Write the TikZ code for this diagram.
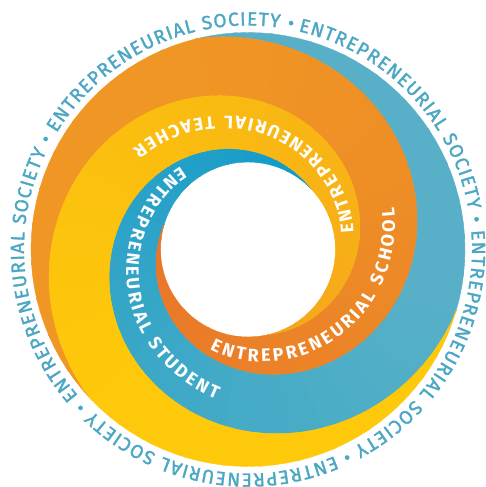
\documentclass[tikz,border=0pt]{standalone}
\usepackage{fontspec}
\setmainfont{Fira Sans}
\newfontfamily\ringfont{Fira Sans}[FakeBold=1.6]
\usetikzlibrary{decorations.text}

\definecolor{bluein}{HTML}{0E9AC8}
\definecolor{blueout}{HTML}{57B0C7}
\definecolor{orangein}{HTML}{E8742A}
\definecolor{orangeout}{HTML}{F09624}
\definecolor{yellowin}{HTML}{F5A51C}
\definecolor{yellowout}{HTML}{FDC90A}
\definecolor{societyblue}{HTML}{4BA7C3}

\begin{document}
\begin{tikzpicture}[x=1pt, y=1pt,
	declare function={
		ease(\t)=\t-0.6*\t*(1-\t)^2;
		bandr(\p)=87.5+129.5*ease(min(max(\p/300,0),1));
	}]
	\useasboundingbox (-248,-237.5) rectangle (237,249.5);
	\fill[white] (-248,-237.5) rectangle (237,249.5);

	% three spiral bands, filled piece by piece for the colour run
	\foreach \s/\cin/\cout in {43/bluein/blueout, 163/orangein/orangeout, 283/yellowin/yellowout}{
		\foreach \k in {0,...,41}{
			\pgfmathsetmacro{\pa}{10*\k}
			\pgfmathsetmacro{\pb}{10*\k+11}
			\pgfmathtruncatemacro{\pct}{min(100,(10*\k+5)/3)}
			\colorlet{piece}{\cout!\pct!\cin}
			\fill[piece, draw=piece, line width=0.4pt]
				plot[domain=\pa:\pb, samples=4] ({\s+\x}:{bandr(\x)})
				-- plot[domain=\pb:\pa, samples=4] ({\s+\x}:{bandr(\x-120)}) -- cycle;
		}
	}

	% labels along the middle of each band
	\path[decorate, decoration={text along path, text color=white, text align=fit to path,
		text={|\bfseries\fontsize{18}{18}\selectfont|ENTREPRENEURIAL STUDENT}}]
		plot[domain=86:215, samples=50] ({43+\x}:{(bandr(\x)+bandr(\x-120))/2+6.5});
	\path[decorate, decoration={text along path, text color=white, text align=fit to path,
		text={|\bfseries\fontsize{18}{18}\selectfont|ENTREPRENEURIAL SCHOOL}}]
		plot[domain=86:213, samples=50] ({163+\x}:{(bandr(\x)+bandr(\x-120))/2+6.5});
	\path[decorate, decoration={text along path, text color=white, text align=fit to path,
		text={|\bfseries\fontsize{18}{18}\selectfont|ENTREPRENEURIAL TEACHER}}]
		plot[domain=86:216, samples=50] ({283+\x}:{(bandr(\x)+bandr(\x-120))/2+6.5});

	% outer ring of text
	\path[decorate, decoration={text along path, text color=societyblue, text align=fit to path,
		text={|\ringfont\fontsize{19}{19}\selectfont|ENTREPRENEURIAL SOCIETY • ENTREPRENEURIAL SOCIETY • ENTREPRENEURIAL SOCIETY • ENTREPRENEURIAL SOCIETY • ENTREPRENEURIAL SOCIETY •}}]
		(77:224) arc[start angle=77, end angle=-281.5, radius=224pt];
\end{tikzpicture}
\end{document}
